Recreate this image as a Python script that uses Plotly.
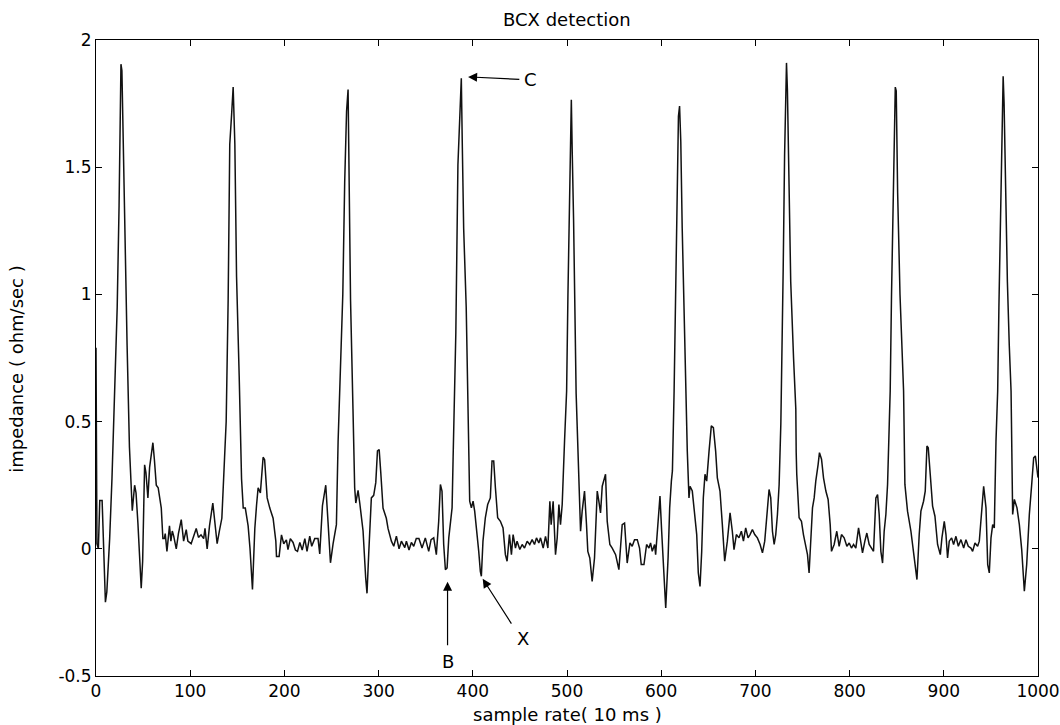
import plotly.graph_objects as go

# ---- data (sample index, amplitude) ----
sample_index = [
    0, 1, 2.5, 4, 6.5, 7.5, 10, 11.5, 14.5, 17, 19,
    20.5, 22.5, 24.5, 25.5, 26.5, 27.5, 29, 31, 33, 35.5, 37.5,
    38.5, 41, 42.5, 44.5, 48, 49.5, 51.6, 53, 55.1, 56.9, 58.5, 60.4, 62, 64, 66, 69.3, 71, 72.5, 73.5,
    75.3, 78, 79.5, 81, 82.5, 85.2, 87.5, 90.5, 93, 95.8, 97.5, 101, 103.8, 106.4, 108.8, 111.5, 114.3,
    115.7, 118, 120.5, 124, 126, 128.6, 131, 133.6, 136.5, 138.2,
    140.3, 142, 144, 145.6, 147.4, 149.2, 152, 154.5, 156.3,
    158.5, 161.5, 163.5, 166.1, 168.6, 170.4, 172.1, 174.5, 177.4, 179, 181.7, 184.5, 188, 190.9, 191.6,
    194.4, 196.9, 199.3, 202.1, 203.8, 206.3, 209.2, 211.7, 213.9, 216.4, 218.9, 221.7, 224, 226.9, 229,
    232.2, 235.7, 237.5, 240.4, 243.9, 246.4, 248.9, 251.7, 255.2, 257, 258.8,
    260.5, 262, 264, 266, 267.6, 268.8, 270.2, 272.8, 274.6,
    275.8, 278.2, 280, 283.5, 286.3, 287.7, 289.5, 291.3, 292.3, 294.8, 297, 298.8, 300.6, 302.3, 304.7,
    308.2, 310, 313.6, 316.1, 318.9, 321.7, 324.2, 327.8, 329.5, 332.3, 334.8, 337.3, 340, 342.8, 346.1,
    349.6, 353.2, 355.7, 358.5, 361.3, 363.8, 365.6, 367.3, 369.1, 370.9, 372.7, 374.5, 376.2, 378, 379.1, 380.5,
    382, 384.2, 386, 387.8, 388.8, 390.3, 393, 394.6, 396.7,
    398.5, 400.3, 402, 404.5, 406.3, 408, 409.1, 410.8, 413.3, 415.8, 418.6, 420.4, 422.2, 424, 426.4,
    429.3, 432.1, 434.6, 436.4, 438.9, 441, 442.8, 445.3, 447, 449.9, 452.4, 454.9, 457.7, 460.5, 463,
    465.5, 467.6, 470.1, 471.9, 474.7, 477.2, 479.7, 481.8, 483.2, 485.3, 487.8, 489.6, 491.4, 493.1, 494.9,
    497.4, 499.6,
    501, 502.5, 503.8, 504.6, 505.6, 507, 509.7, 510.8,
    512.6, 514.4, 516.1, 518.6, 520.7, 522.1, 524.2, 526.7, 529.2, 532.1, 533.8, 535.6, 537.4, 539.1, 540.9,
    542.7, 545.5, 548, 551.6, 555.1, 558.6, 561.1, 563.9, 566.8, 569.2, 571.7, 574.6, 577, 578.8, 581.7,
    584.5, 587, 588.7, 590.5, 593, 594.1, 596.6, 598.7, 600.5, 602.3, 604.8, 607.3, 609, 610.8, 611.9, 613.7,
    615, 616.5, 618.3, 619.5, 620.8, 622.3, 624.5, 626,
    627.7, 629.5, 630.6, 633, 635.5, 637.7, 639.4, 641.2, 643, 644.7, 646.5, 648.3, 650.8, 653.2, 655.4,
    657.8, 659.6, 662.4, 664.9, 667.4, 670.2, 673.1, 675.5, 677.3, 679.8, 682.6, 685.1, 687.3, 689.7, 692.2,
    694.3, 696.8, 699.3, 702.1, 705, 707.5, 709.9, 712.1, 714.5, 716.3, 718.1, 719.9, 721.6, 723.4, 725.2,
    727, 727.6,
    729.5, 731, 732, 733, 734, 735.5, 737.5, 740.5, 742.9, 743.3,
    743.9, 746.4, 748.9, 751, 753.5, 755.3, 757, 758.8, 760.6, 762.4, 764.1, 766.6, 768, 770.2, 772.3,
    774.8, 777.2, 779.4, 780.8, 783.6, 786.4, 788.9, 791.4, 794.2, 797.1, 799.6, 802, 804.2, 806.6, 809.5,
    811.2, 813.7, 816.2, 818.3, 820.8, 823.3, 825.4, 827.9, 829.7, 831.4, 833.2, 835, 836.7, 838.5, 840.3,
    842.1, 843.1,
    844.5, 846, 847.5, 848.5, 849.5, 851, 853.5, 855.5, 857.3,
    858.7, 861.5, 865.1, 867.9, 871.5, 873.9, 875.7, 878.5, 880.3, 882.1, 883.5, 885.6, 888.1, 890.6, 893.4,
    896.3, 898, 900.5, 902.3, 904, 905.8, 908.3, 910.4, 912.9, 915.4, 918.2, 921.1, 923.5, 926, 928.8,
    930.6, 933.1, 935.9, 937.7, 939.5, 942.3, 944.8, 946.6, 948.3, 950.1, 951.9, 953.6, 955.4, 957.2,
    958.5, 960, 961.5, 963, 964, 965.5, 967.5, 969.5, 971.4,
    973.1, 974.9, 977.7, 980.2, 982.7, 985.5, 988, 990.8, 993.3, 995.4, 997.2, 999, 1000,
]

amplitude = [
    0.79, 0.02, 0.0, 0.19, 0.19, 0.05, -0.21, -0.17, 0.04, 0.28, 0.54,
    0.66, 0.95, 1.35, 1.75, 1.905, 1.88, 1.55, 1.1, 0.8, 0.4, 0.24,
    0.15, 0.25, 0.22, 0.10, -0.155, -0.05, 0.33, 0.30, 0.20, 0.32, 0.36, 0.417, 0.35, 0.25, 0.24, 0.16, 0.04, 0.04, 0.06,
    -0.01, 0.09, 0.03, 0.07, 0.05, 0.0, 0.06, 0.115, 0.03, 0.075, 0.03, 0.02, 0.055, 0.08, 0.045, 0.055, 0.04,
    0.08, 0.0, 0.09, 0.18, 0.11, 0.02, 0.07, 0.12, 0.36, 0.5,
    0.98, 1.59, 1.71, 1.815, 1.59, 1.07, 0.68, 0.275, 0.16,
    0.16, 0.09, 0.0, -0.16, 0.08, 0.17, 0.24, 0.22, 0.36, 0.35, 0.20, 0.16, 0.12, 0.03, -0.03,
    -0.03, 0.055, 0.02, 0.035, -0.003, 0.04, 0.025, -0.005, -0.01, 0.025, -0.005, 0.04, -0.01, 0.05, 0.01,
    0.04, 0.04, -0.02, 0.17, 0.25, 0.10, -0.055, 0.02, 0.095, 0.42, 0.62,
    0.85, 1.0, 1.44, 1.72, 1.805, 1.45, 0.98, 0.55, 0.24,
    0.18, 0.23, 0.18, 0.07, -0.115, -0.175, -0.02, 0.095, 0.2, 0.21, 0.26, 0.385, 0.39, 0.30, 0.16,
    0.12, 0.08, 0.03, 0.01, 0.05, 0.0, 0.03, 0.005, 0.03, -0.005, 0.025, 0.01, 0.04, 0.04, 0.003,
    0.043, -0.01, 0.036, 0.043, -0.023, 0.108, 0.253, 0.227, 0.017, -0.082, -0.075, 0.043, 0.095, 0.161, 0.358, 0.555,
    0.85, 1.51, 1.72, 1.85, 1.6, 1.26, 0.95, 0.62, 0.187,
    0.161, 0.187, 0.148, 0.069, -0.01, -0.089, -0.108, 0.03, 0.122, 0.174, 0.2, 0.345, 0.345, 0.24, 0.122,
    0.108, 0.082, -0.023, -0.049, 0.056, -0.023, 0.056, 0.003, 0.03, -0.003, 0.017, 0.003, 0.03, 0.017, 0.036,
    0.017, 0.043, 0.023, 0.043, 0.003, 0.049, 0.003, 0.187, 0.095, 0.187, -0.023, 0.043, 0.174, 0.095, 0.174,
    0.424, 0.62,
    1.0, 1.4, 1.65, 1.765, 1.55, 1.29, 0.61, 0.49,
    0.227, 0.069, 0.148, 0.227, 0.095, -0.01, -0.036, -0.128, -0.036, 0.227, 0.187, 0.141, 0.246, 0.266, 0.293,
    0.108, 0.017, 0.003, -0.023, -0.082, 0.095, 0.101, -0.056, 0.023, 0.01, 0.036, 0.036, 0.003, -0.062, -0.062,
    0.017, 0.003, 0.023, -0.01, 0.017, -0.023, 0.122, 0.207, 0.069, -0.062, -0.233, -0.036, 0.161, 0.266, 0.306, 0.62,
    0.95, 1.42, 1.7, 1.74, 1.6, 1.26, 0.85, 0.62,
    0.384, 0.2, 0.246, 0.227, 0.148, 0.056, -0.095, -0.148, -0.01, 0.2, 0.293, 0.266, 0.384, 0.483, 0.476,
    0.384, 0.279, 0.227, 0.095, -0.049, 0.03, 0.141, 0.069, -0.003, 0.056, 0.043, 0.069, 0.03, 0.082, 0.043,
    0.056, 0.076, 0.056, 0.043, 0.017, -0.016, 0.03, 0.122, 0.233, 0.2, 0.069, 0.017, 0.056, 0.135, 0.253,
    0.49, 0.62,
    1.1, 1.55, 1.8, 1.91, 1.8, 1.45, 1.05, 0.75, 0.55, 0.38,
    0.293, 0.122, 0.108, 0.056, 0.003, -0.023, -0.095, 0.043, 0.161, 0.2, 0.266, 0.332, 0.378, 0.352, 0.279,
    0.227, 0.194, 0.095, -0.01, 0.017, 0.069, 0.01, 0.056, 0.043, 0.01, 0.023, 0.003, 0.017, 0.003, 0.082,
    0.043, -0.016, 0.03, 0.062, 0.017, 0.003, -0.01, 0.2, 0.213, 0.135, -0.01, -0.056, 0.069, 0.135, 0.253,
    0.49, 0.62,
    1.0, 1.35, 1.65, 1.815, 1.8, 1.4, 1.0, 0.8, 0.62,
    0.253, 0.148, 0.069, -0.023, -0.121, 0.056, 0.148, 0.187, 0.227, 0.404, 0.397, 0.293, 0.168, 0.128, 0.017,
    -0.023, 0.043, 0.108, 0.056, -0.036, 0.03, 0.043, 0.017, 0.049, 0.01, 0.036, 0.003, 0.036, 0.01, 0.003,
    -0.01, 0.023, 0.01, 0.03, 0.122, 0.246, 0.161, -0.062, -0.095, 0.043, 0.095, 0.082, 0.424, 0.62,
    0.95, 1.3, 1.6, 1.857, 1.75, 1.4, 1.05, 0.8, 0.62,
    0.135, 0.194, 0.161, 0.095, -0.003, -0.167, -0.062, 0.135, 0.253, 0.358, 0.365, 0.305, 0.28,
]

x_tick_values = [0, 100, 200, 300, 400, 500, 600, 700, 800, 900, 1000]
x_tick_labels = ["0", "100", "200", "300", "400", "500", "600", "700", "800", "900", "1000"]
y_tick_values = [-0.5, 0, 0.5, 1, 1.5, 2]
y_tick_labels = ["-0.5", "0", "0.5", "1", "1.5", "2"]

title_text = "BCX detection"
x_label = "sample rate( 10 ms )"
y_label = "impedance ( ohm/sec )"

FONT = "DejaVu Sans, Liberation Sans, Arial, sans-serif"

fig = go.Figure()
fig.add_trace(go.Scatter(
    x=sample_index, y=amplitude, mode="lines",
    line=dict(color="#111111", width=1.5),
    showlegend=False, hoverinfo="skip",
))

axis_common = dict(
    showline=True, linecolor="black", linewidth=1, mirror="ticks",
    ticks="inside", ticklen=6, tickcolor="black", tickwidth=1,
    showgrid=False, zeroline=False,
    tickfont=dict(family=FONT, size=17, color="black"),
)

fig.update_xaxes(range=[0, 1000], tickvals=x_tick_values, ticktext=x_tick_labels, **axis_common)
fig.update_yaxes(range=[-0.5, 2], tickvals=y_tick_values, ticktext=y_tick_labels, **axis_common)

arrow_style = dict(showarrow=True, arrowhead=2, arrowsize=1.5, arrowwidth=1.2,
                   arrowcolor="black", xref="x", yref="y", axref="x", ayref="y", text="")
annotations = [
    # C
    dict(x=395, y=1.855, ax=451, ay=1.845, **arrow_style),
    # B
    dict(x=373.2, y=-0.13, ax=373.2, ay=-0.385, **arrow_style),
    # X
    dict(x=410.5, y=-0.118, ax=442, ay=-0.30, **arrow_style),
]
label_style = dict(showarrow=False, xref="x", yref="y",
                   font=dict(family=FONT, size=18, color="black"))
annotations += [
    dict(x=461, y=1.845, text="C", xanchor="center", yanchor="middle", **label_style),
    dict(x=373.2, y=-0.444, text="B", xanchor="center", yanchor="middle", **label_style),
    dict(x=453, y=-0.353, text="X", xanchor="center", yanchor="middle", **label_style),
]
# titles as positioned text
annotations += [
    dict(text=title_text, xref="paper", yref="paper", x=0.5, y=1.033,
         xanchor="center", yanchor="middle", showarrow=False,
         font=dict(family=FONT, size=18, color="black")),
    dict(text=x_label, xref="paper", yref="paper", x=0.5, y=-0.061,
         xanchor="center", yanchor="middle", showarrow=False,
         font=dict(family=FONT, size=18, color="black")),
    dict(text=y_label, xref="paper", yref="paper", x=-0.084, y=0.483,
         xanchor="center", yanchor="middle", showarrow=False, textangle=-90,
         font=dict(family=FONT, size=18, color="black")),
]

fig.update_layout(
    width=1060, height=725,
    margin=dict(l=96, r=22, t=40, b=49, autoexpand=False),
    plot_bgcolor="white", paper_bgcolor="white",
    annotations=annotations,
    font=dict(family=FONT, color="black"),
)

fig.write_html("out.html")
